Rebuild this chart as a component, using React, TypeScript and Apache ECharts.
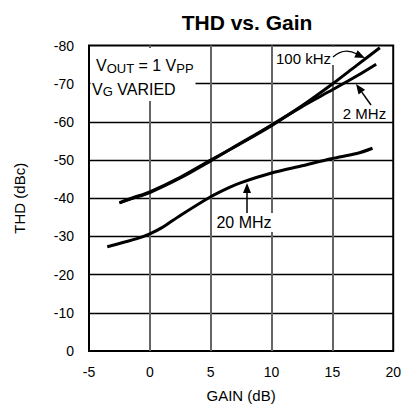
import React, { useEffect, useRef } from "react";
import * as echarts from "echarts";

// Gain (dB) vs THD (dBc)
const thd100kHz: [number, number][] = [
  [-2.5, -38.8], [-1.5, -40.0], [0, -41.7], [2.5, -45.5], [5, -50.0],
  [7.5, -54.4], [10, -59.0], [12.5, -64.2], [15, -69.9], [17, -74.8], [18.9, -79.4],
];
const thd2MHz: [number, number][] = [
  [-2.5, -38.8], [-1.5, -39.9], [0, -41.5], [2.5, -45.3], [5, -49.8],
  [7.5, -54.5], [10, -59.2], [12.5, -64.0], [15, -68.4], [17, -72.0], [18.6, -75.1],
];
const thd20MHz: [number, number][] = [
  [-3.5, -27.3], [-2, -28.6], [-1, -29.5], [0, -30.7], [1, -32.3], [2.5, -35.5],
  [5, -40.4], [6.5, -42.8], [7.5, -44.1], [10, -46.6], [12.5, -48.5], [15, -50.4],
  [17, -51.7], [18.3, -53.1],
];
const seriesNames = ["100 kHz", "2 MHz", "20 MHz"];
const xRange = { min: -5, max: 20, interval: 5 };
const yRange = { min: -80, max: 0, interval: 10 };

const FONT = "'Liberation Sans', Arial, Helvetica, sans-serif";

function txt(text: string, x: number, y: number, size: number, align = "left") {
  return {
    type: "text",
    x,
    y,
    z: 20,
    style: { text, fontSize: size, fontFamily: FONT, fill: "#000", align, verticalAlign: "middle" },
  };
}
function whiteBox(x: number, y: number, w: number, h: number) {
  return { type: "rect", z: 15, shape: { x, y, width: w, height: h }, style: { fill: "#fff" } };
}
function arrowHead(tip: [number, number], from: [number, number], len = 10, half = 4) {
  const dx = tip[0] - from[0];
  const dy = tip[1] - from[1];
  const l = Math.hypot(dx, dy);
  const ux = dx / l, uy = dy / l;
  const bx = tip[0] - ux * len, by = tip[1] - uy * len;
  const px = -uy * half, py = ux * half;
  return {
    type: "polygon",
    z: 21,
    shape: { points: [tip, [bx + px, by + py], [bx - px, by - py]] },
    style: { fill: "#000" },
  };
}

export default function App() {
  const ref = useRef<HTMLDivElement>(null);
  useEffect(() => {
    const chart = echarts.init(ref.current!, null, { renderer: "svg" });
    const lineStyle = { color: "#000", width: 3 };
    chart.setOption({
      animation: false,
      backgroundColor: "#fff",
      title: {
        text: "THD vs. Gain",
        left: 242,
        top: 7,
        textAlign: "center",
        textStyle: { fontFamily: FONT, fontSize: 21, fontWeight: "bold", color: "#000" },
      },
      grid: {
        left: 89,
        right: 7,
        top: 45.5,
        bottom: 55,
        show: true,
        borderColor: "#000",
        borderWidth: 2,
        backgroundColor: "transparent",
      },
      xAxis: {
        type: "value",
        ...xRange,
        name: "GAIN (dB)",
        nameLocation: "middle",
        nameGap: 37,
        nameTextStyle: { fontFamily: FONT, fontSize: 15, color: "#000" },
        axisLine: { show: false },
        axisTick: { show: false },
        axisLabel: { fontFamily: FONT, fontSize: 14, color: "#000", margin: 14 },
        splitLine: { show: true, showMinLine: false, showMaxLine: false, lineStyle: { color: "#666", width: 2 } },
      },
      yAxis: {
        type: "value",
        ...yRange,
        inverse: true,
        name: "THD (dBc)",
        nameLocation: "middle",
        nameGap: 62,
        nameRotate: 90,
        nameTextStyle: { fontFamily: FONT, fontSize: 15, color: "#000" },
        axisLine: { show: false },
        axisTick: { show: false },
        axisLabel: { fontFamily: FONT, fontSize: 14, color: "#000", margin: 15 },
        splitLine: { show: true, showMinLine: false, showMaxLine: false, lineStyle: { color: "#000", width: 1.3 } },
      },
      series: [
        { name: seriesNames[0], type: "line", data: thd100kHz, showSymbol: false, smooth: 0.3, lineStyle, z: 5 },
        { name: seriesNames[1], type: "line", data: thd2MHz, showSymbol: false, smooth: 0.3, lineStyle, z: 5 },
        { name: seriesNames[2], type: "line", data: thd20MHz, showSymbol: false, smooth: 0.3, lineStyle, z: 5 },
      ],
      graphic: [
        // condition box
        whiteBox(90.5, 48, 105, 53),
        txt("V", 96, 65.5, 16),
        txt("OUT", 106.7, 68, 13),
        txt(" = 1 V", 134, 65.5, 16),
        txt("PP", 176.3, 68, 13),
        txt("V", 92, 89, 16),
        txt("G", 102.7, 91.5, 13),
        txt(" VARIED", 112.8, 89, 16),
        // 100 kHz
        whiteBox(274, 47, 63, 18),
        txt(seriesNames[0], 303.5, 58, 15, "center"),
        {
          type: "bezierCurve",
          z: 21,
          shape: { x1: 333, y1: 57, cpx1: 344, cpy1: 47, x2: 357, y2: 54 },
          style: { stroke: "#000", lineWidth: 1.3, fill: "none" },
        },
        arrowHead([365, 58], [350, 51]),
        // 2 MHz
        whiteBox(340, 104, 50, 17),
        txt(seriesNames[1], 364.5, 113, 15, "center"),
        { type: "line", z: 21, shape: { x1: 371, y1: 105, x2: 361.8, y2: 92.1 }, style: { stroke: "#000", lineWidth: 1.5 } },
        arrowHead([356, 84], [371, 105]),
        // 20 MHz
        whiteBox(215, 213, 60, 19),
        txt(seriesNames[2], 244, 222.5, 16, "center"),
        { type: "line", z: 21, shape: { x1: 247, y1: 213, x2: 247, y2: 192 }, style: { stroke: "#000", lineWidth: 1.5 } },
        arrowHead([247, 183], [247, 213]),
      ],
    });
    return () => chart.dispose();
  }, []);
  return <div ref={ref} style={{ position: "absolute", left: 0, top: 0, width: 404, height: 408 }} />;
}
